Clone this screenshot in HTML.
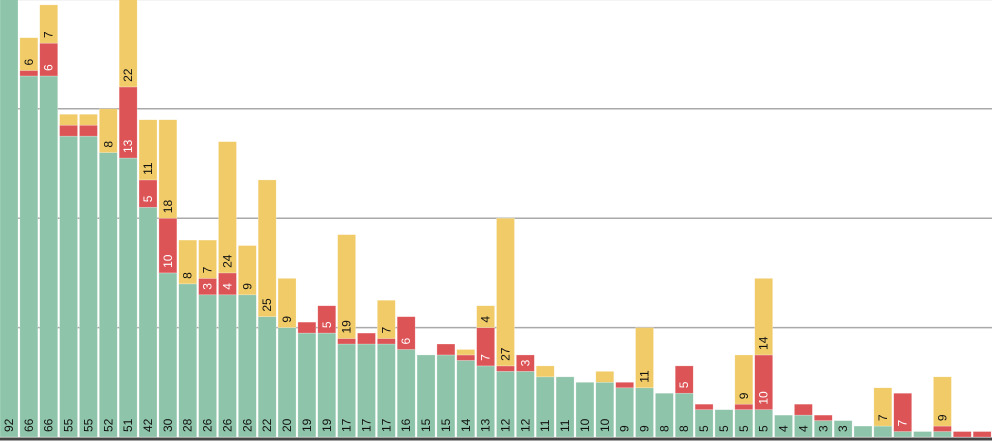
<!DOCTYPE html>
<html><head><meta charset="utf-8"><style>
html,body{margin:0;padding:0;background:#fff;}
svg{display:block;font-family:"Liberation Sans",sans-serif;}
</style></head><body>
<svg id="chart" width="992" height="446" viewBox="0 0 992 446"></svg>
<script>
const green=[92,66,66,55,55,52,51,42,30,28,26,26,26,22,20,19,19,17,17,17,16,15,15,14,13,12,12,11,11,10,10,9,9,8,8,5,5,5,5,4,4,3,3,2,2,1,1,1,0,0];
const red=[0,1,6,2,2,0,13,5,10,0,3,4,0,0,0,2,5,1,2,1,6,0,2,1,7,1,3,0,0,0,0,1,0,0,5,1,0,1,10,0,2,1,0,0,0,7,0,1,1,1];
const yellow=[0,6,7,2,2,8,22,11,18,8,7,24,9,25,9,0,0,19,0,7,0,0,0,1,4,27,0,2,0,0,2,0,11,0,0,0,0,9,14,0,0,0,0,0,7,0,0,9,0,0];
const gridTicks=[20,40,60,80];
const NS="http://www.w3.org/2000/svg";
const svg=document.getElementById('chart');
const base=437, unit=5.47, step=19.86, bw=18;
function y(v){return base-v*unit;}
function x(i){return i*step;}
function mk(t,a){const e=document.createElementNS(NS,t);for(const k in a)e.setAttribute(k,a[k]);svg.appendChild(e);return e;}
gridTicks.forEach((t,i)=>{
  const l=mk('line',{x1:0,x2:992,y1:y(t),y2:y(t),stroke:'#aaaaaa','stroke-width':1.5});
  
  
});
const series=[[green,'#8ec4a9','#111','green'],[red,'#dd5457','#fff','red'],[yellow,'#f0cb67','#111','yellow']];
green.forEach((g,i)=>{
  let acc=0;
  series.forEach(([arr,col,tc,nm])=>{
    const v=arr[i]; if(!v){return;}
    const r=mk('rect',{x:x(i),y:y(acc+v),width:bw,height:v*unit,fill:col,stroke:'#fff','stroke-opacity':0.4,'stroke-width':0.6});
    
    
    if(v>=3){
      const by=y(acc)-5, cx=x(i)+bw/2+4;
      const t=mk('text',{x:cx,y:by,transform:`rotate(-90 ${cx} ${by})`,'font-size':12,fill:tc,'text-anchor':'start'});
      t.textContent=v;
      
      
    }
    acc+=v;
  });
});
const ax=mk('line',{x1:0,x2:992,y1:439,y2:439,stroke:'#444','stroke-width':3});


</script>
</body></html>
